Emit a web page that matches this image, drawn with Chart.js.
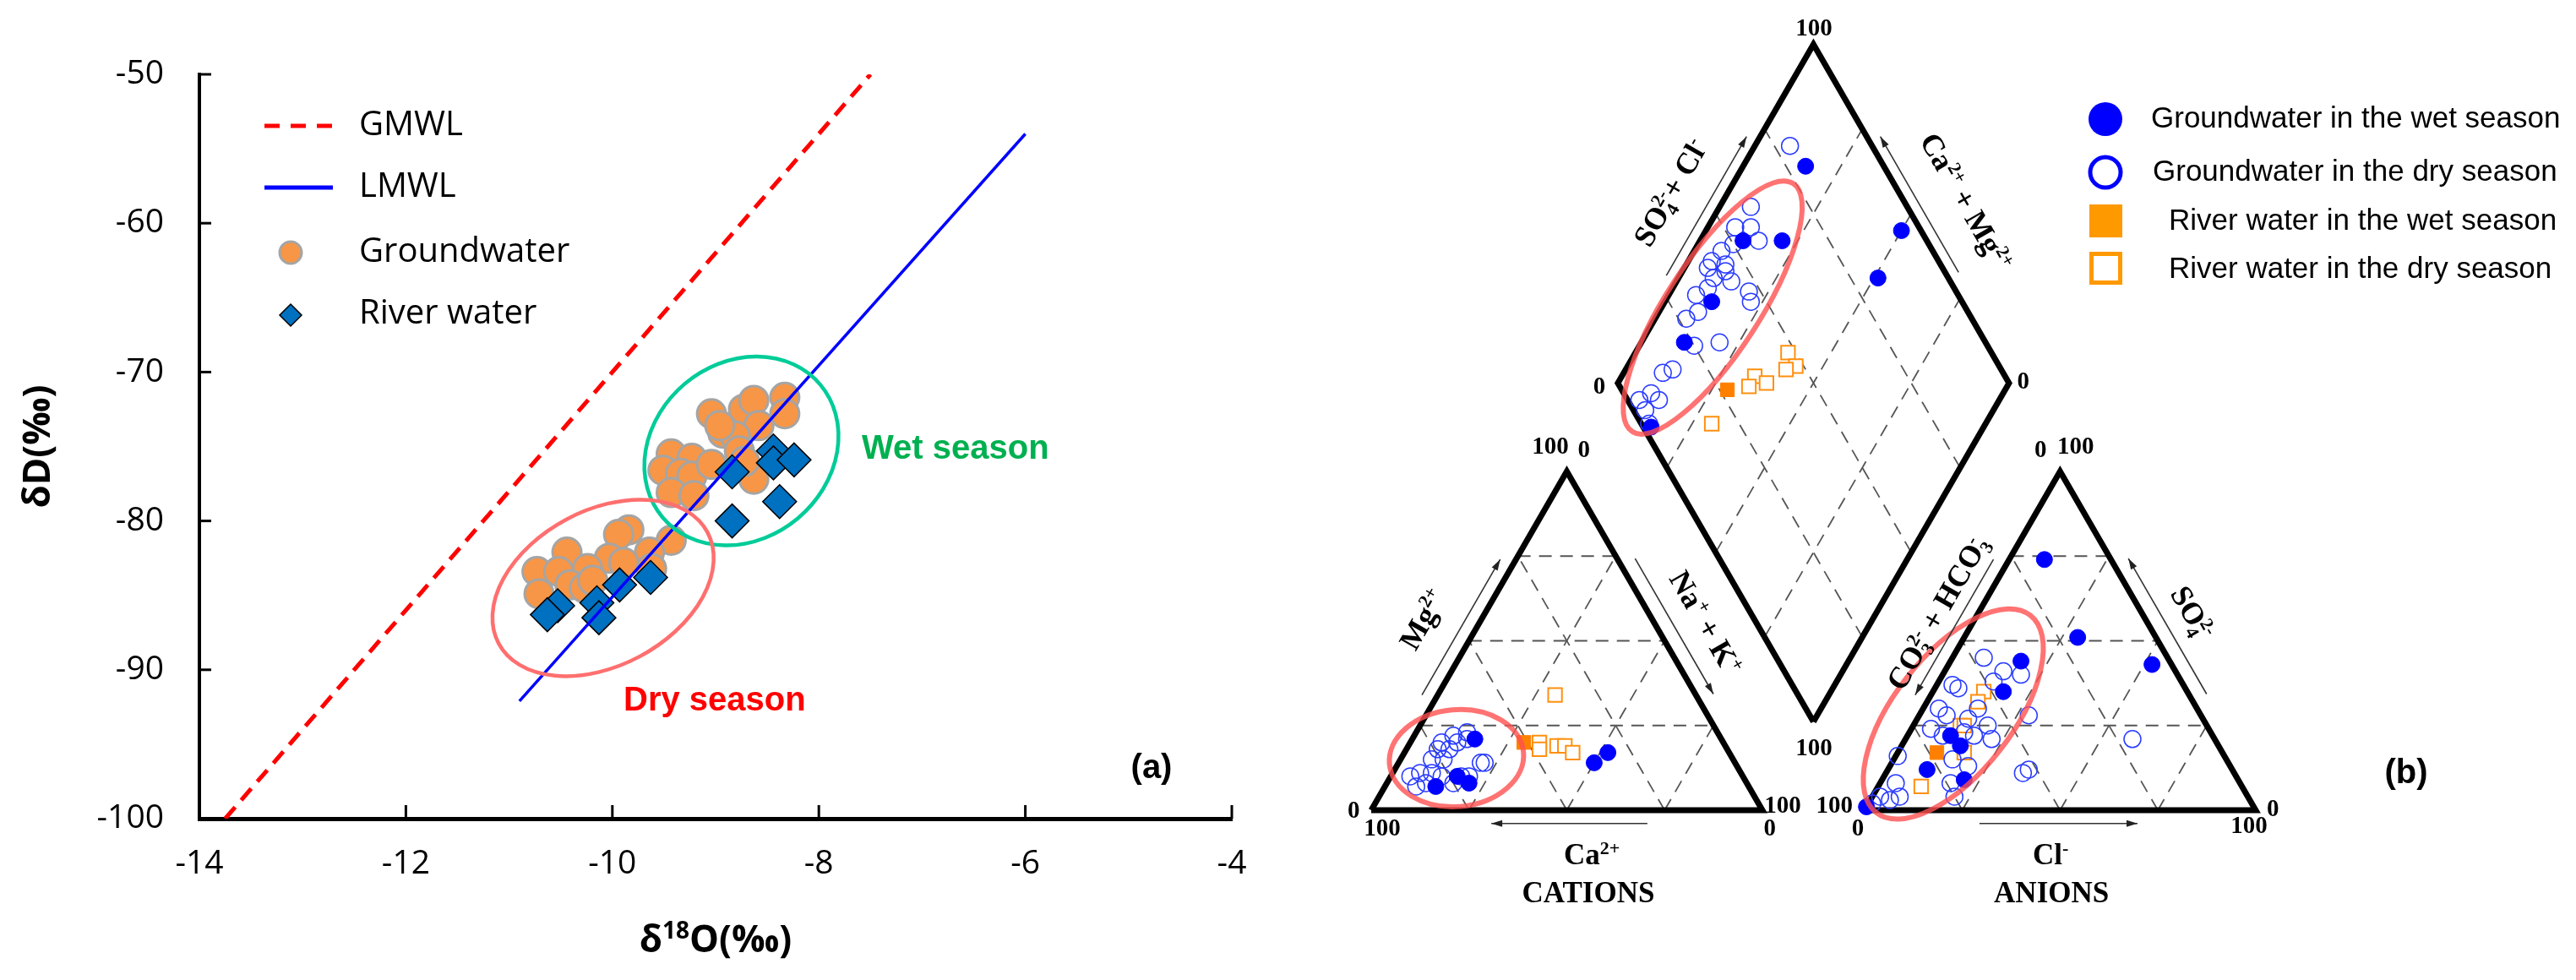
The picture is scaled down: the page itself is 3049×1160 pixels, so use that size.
<!DOCTYPE html>
<html>
<head>
<meta charset="utf-8">
<script src="https://cdn.jsdelivr.net/npm/chart.js@4.4.1/dist/chart.umd.min.js"></script>
<style>
  html, body { margin: 0; padding: 0; background: #fff; }
  #wrap { position: relative; width: 3049px; height: 1160px; overflow: hidden; }
  .box { position: absolute; top: 0; height: 1160px; }
</style>
</head>
<body>
<div id="wrap">
  <div class="box" style="left:0;width:1560px"><canvas id="isoChart"></canvas></div>
  <div class="box" style="left:1560px;width:1489px"><canvas id="piperChart"></canvas></div>
</div>
<script>
// ---- (a) stable isotopes, values in ‰ ----
const gwO18 = [-9.04, -8.73, -8.63, -8.33, -8.33, -8.58, -8.93, -8.81, -8.96, -9.43, -9.23, -9.51, -9.34, -9.23, -9.04,
  -9.43, -9.21, -8.63, -8.77, -8.72, -9.84, -9.94, -9.43, -10.44, -10.03, -9.64, -10.73, -10.52, -10.24, -10.71,
  -10.41, -10.27, -9.89, -9.62, -10.19];
const gwD = [-72.8, -72.5, -71.9, -71.7, -72.8, -73.6, -74.1, -74.3, -73.6, -75.5, -75.8, -76.6, -76.8, -77.0, -76.2,
  -78.1, -78.3, -77.2, -75.3, -76.0, -80.6, -80.9, -81.3, -82.1, -82.5, -82.1, -83.4, -83.4, -83.2, -84.9,
  -84.3, -84.5, -82.8, -83.2, -84.0];
const riverO18 = [-8.84, -8.44, -8.44, -8.24, -8.38, -8.84, -9.63, -9.93, -10.15, -10.13, -10.53, -10.63];
const riverD = [-76.7, -75.3, -76.1, -75.9, -78.7, -80.0, -83.8, -84.3, -85.5, -86.5, -85.7, -86.3];
const gmwlO18 = [-13.75, -7.5];
const gmwlD = [-100, -50];
const lmwlO18 = [-10.9, -6.0];
const lmwlD = [-92.1, -54.0];
const isoXTicks = [-14, -12, -10, -8, -6, -4];
const isoYTicks = [-100, -90, -80, -70, -60, -50];

// ---- (b) Piper diagram, values in % meq ----
// cations: [Mg, Na+K]
const gwWetCation = [[21, 16], [7, 13], [10, 17], [8, 21], [17, 52], [14, 50]];
const gwDryCation = [[23, 13], [22, 10], [20, 8], [18, 8], [15, 11], [15, 8], [11, 7], [10, 5], [7, 8], [11, 10],
  [8, 17], [10, 18], [14, 21], [14, 22], [20, 12], [21, 14], [10, 13], [10, 20], [18, 11], [8, 10]];
const rvWetCation = [[20, 29]];
const rvDryCation = [[20, 33], [18, 34], [19, 38], [19, 40], [17, 43], [34, 30]];
// anions: [SO4, Cl]
const gwWetAnion = [[44, 18], [35, 18], [22, 11], [19, 15], [12, 10], [9, 21], [1, 0], [51, 29], [43, 52], [74, 9]];
const gwDryAnion = [[45, 8], [41, 15], [40, 20], [38, 14], [37, 4], [36, 6], [30, 4], [28, 7], [24, 5], [22, 9],
  [23, 14], [30, 14], [25, 19], [21, 22], [22, 17], [15, 15], [13, 20], [8, 18], [4, 21], [16, 0.5],
  [8, 4], [4, 2], [4, 7], [3, 5], [28, 28], [21, 58], [11, 35], [12, 36], [27, 13], [2, 1]];
const rvWetAnion = [[17, 10]];
const rvDryAnion = [[35, 13], [32, 13], [25, 12], [25, 13], [17, 17], [7, 11]];
// diamond: [SO4+Cl, Ca+Mg]
const gwWetDiamond = [[80, 84], [63, 79], [53, 89], [36, 88], [23, 89], [2, 85], [95, 50], [82, 49]];
const gwDryDiamond = [[79, 91], [60, 92], [53, 93], [57, 89], [57, 85], [50, 91], [42, 94], [45, 90], [44, 89], [40, 94],
  [40, 91], [44, 86], [37, 91], [47, 80], [46, 78], [33, 93], [31, 90], [27, 92], [25, 86], [32, 80],
  [16, 88], [13, 90], [7, 90], [8, 87], [3, 89], [2, 86], [3, 92], [46, 93]];
const rvWetDiamond = [[27, 71]];
const rvDryDiamond = [[18, 70], [36, 66], [33, 66], [38, 62], [48, 61], [48, 57], [45, 59]];
const gridLevels = [25, 50, 75];

const zip = (xs, ys) => xs.map((x, i) => ({ x, y: ys[i] }));

// ================= chart (a) =================
function ellipse(ctx, cx, cy, a, b, deg, color, lw) {
  ctx.save();
  ctx.strokeStyle = color; ctx.lineWidth = lw;
  ctx.beginPath(); ctx.ellipse(cx, cy, a, b, deg * Math.PI / 180, 0, Math.PI * 2); ctx.stroke();
  ctx.restore();
}

const isoDecor = {
  id: 'isoDecor',
  afterDatasetsDraw(chart) {
    const { ctx, scales: { x, y } } = chart;
    ellipse(ctx, x.getPixelForValue(-8.75), y.getPixelForValue(-75.3), 122, 104, -40, '#00CC99', 4.5);
    ellipse(ctx, x.getPixelForValue(-10.09), y.getPixelForValue(-84.5), 140, 92, -28, '#FF6F6F', 4.5);
  },
  afterDraw(chart) {
    const { ctx, chartArea: ca, scales: { x, y } } = chart;
    ctx.save();
    // inner tick marks
    ctx.strokeStyle = '#000'; ctx.lineWidth = 3;
    isoXTicks.forEach(v => {
      const p = x.getPixelForValue(v);
      ctx.beginPath(); ctx.moveTo(p, ca.bottom); ctx.lineTo(p, ca.bottom - 16); ctx.stroke();
    });
    isoYTicks.forEach(v => {
      const p = y.getPixelForValue(v);
      ctx.beginPath(); ctx.moveTo(ca.left, p); ctx.lineTo(ca.left + 14, p); ctx.stroke();
    });

    // axis titles
    ctx.fillStyle = '#000';
    ctx.textBaseline = 'alphabetic'; ctx.textAlign = 'left';
    const parts = [['δ', 44, 0], ['18', 28, -16], ['O(‰)', 44, 0]];
    let w = 0;
    parts.forEach(p => { ctx.font = 'bold ' + p[1] + 'px "Open Sans"'; w += ctx.measureText(p[0]).width; });
    let cx = (ca.left + ca.right) / 2 - w / 2;
    parts.forEach(p => {
      ctx.font = 'bold ' + p[1] + 'px "Open Sans"';
      ctx.fillText(p[0], cx, 1127 + p[2]);
      cx += ctx.measureText(p[0]).width;
    });
    ctx.save();
    ctx.translate(46, (ca.top + ca.bottom) / 2); ctx.rotate(-Math.PI / 2);
    ctx.font = 'bold 44px "Open Sans"'; ctx.textAlign = 'center'; ctx.textBaseline = 'middle';
    ctx.fillText('δD(‰)', 0, 0);
    ctx.restore();

    // legend
    ctx.lineWidth = 5;
    ctx.strokeStyle = '#FF0000'; ctx.setLineDash([18, 13]);
    ctx.beginPath(); ctx.moveTo(313, 149); ctx.lineTo(394, 149); ctx.stroke();
    ctx.setLineDash([]);
    ctx.strokeStyle = '#0000FF';
    ctx.beginPath(); ctx.moveTo(313, 222); ctx.lineTo(394, 222); ctx.stroke();
    ctx.fillStyle = '#F79646'; ctx.strokeStyle = '#A5A5A5'; ctx.lineWidth = 3;
    ctx.beginPath(); ctx.arc(344, 299, 13, 0, Math.PI * 2); ctx.fill(); ctx.stroke();
    ctx.fillStyle = '#0070C0'; ctx.strokeStyle = '#000'; ctx.lineWidth = 1.5;
    ctx.beginPath(); ctx.moveTo(344, 360); ctx.lineTo(357, 373); ctx.lineTo(344, 386); ctx.lineTo(331, 373); ctx.closePath();
    ctx.fill(); ctx.stroke();
    ctx.fillStyle = '#000'; ctx.font = '40px "Open Sans"'; ctx.textAlign = 'left'; ctx.textBaseline = 'middle';
    ctx.fillText('GMWL', 425, 149);
    ctx.fillText('LMWL', 425, 222);
    ctx.fillText('Groundwater', 425, 299);
    ctx.fillText('River water', 425, 372);

    // annotations
    ctx.textBaseline = 'alphabetic';
    ctx.font = 'bold 40px "Liberation Sans"';
    ctx.fillStyle = '#00B050'; ctx.fillText('Wet season', 1020, 543);
    ctx.fillStyle = '#FF0000'; ctx.fillText('Dry season', 738, 841);
    ctx.fillStyle = '#000'; ctx.font = 'bold 40px "Liberation Sans"'; ctx.textAlign = 'center';
    ctx.fillText('(a)', 1363, 921);
    ctx.restore();
  }
};

new Chart(document.getElementById('isoChart'), {
  type: 'scatter',
  data: {
    datasets: [
      { label: 'GMWL', data: zip(gmwlO18, gmwlD), showLine: true, borderColor: '#FF0000', borderWidth: 5,
        borderDash: [18, 11], pointRadius: 0, order: 0 },
      { label: 'LMWL', data: zip(lmwlO18, lmwlD), showLine: true, borderColor: '#0000FF', borderWidth: 3.5,
        pointRadius: 0, order: 0 },
      { label: 'River water', data: zip(riverO18, riverD), pointStyle: 'rectRot', pointRadius: 20,
        backgroundColor: '#0070C0', borderColor: '#000', borderWidth: 1.5, order: 1 },
      { label: 'Groundwater', data: zip(gwO18, gwD), pointStyle: 'circle', pointRadius: 17,
        backgroundColor: '#F79646', borderColor: '#A5A5A5', borderWidth: 3, order: 2 }
    ]
  },
  options: {
    responsive: true, maintainAspectRatio: false, animation: false, events: [],
    layout: { padding: { top: 88, right: 102, bottom: 0, left: 0 }, autoPadding: false },
    plugins: { legend: { display: false }, tooltip: { enabled: false } },
    scales: {
      x: {
        type: 'linear', min: -14, max: -4,
        afterBuildTicks: s => { s.ticks = isoXTicks.map(v => ({ value: v })); },
        afterFit: s => { s.height = 191; },
        grid: { display: false, drawTicks: false },
        border: { display: true, color: '#000', width: 5 },
        ticks: { color: '#000', font: { family: 'Open Sans', size: 39 }, padding: 30, autoSkip: false, maxRotation: 0 }
      },
      y: {
        type: 'linear', min: -100, max: -50,
        afterBuildTicks: s => { s.ticks = isoYTicks.map(v => ({ value: v })); },
        afterFit: s => { s.width = 236; },
        grid: { display: false, drawTicks: false },
        border: { display: true, color: '#000', width: 4 },
        ticks: { color: '#000', font: { family: 'Open Sans', size: 39 }, padding: 42 }
      }
    }
  },
  plugins: [isoDecor]
});

// ================= chart (b) Piper =================
const GAP = 26.1, H = Math.sqrt(3) / 2;
const catPt = ([mg, nak]) => ({ x: nak + mg / 2, y: mg * H });
const anPt = ([so4, cl]) => ({ x: 100 + GAP + cl + so4 / 2, y: so4 * H });
const diaPt = ([a, c]) => ({ x: 100 + GAP / 2 + (a - c) / 2, y: GAP * H + (a + c) * H });

const frameSets = [
  [catPt([0, 0]), catPt([0, 100]), catPt([100, 0]), catPt([0, 0])],
  [anPt([0, 0]), anPt([0, 100]), anPt([100, 0]), anPt([0, 0])],
  [diaPt([0, 0]), diaPt([100, 0]), diaPt([100, 100]), diaPt([0, 100]), diaPt([0, 0])]
];
const gridSets = [];
gridLevels.forEach(g => {
  gridSets.push([catPt([g, 0]), catPt([g, 100 - g])]);
  gridSets.push([catPt([0, g]), catPt([100 - g, g])]);
  gridSets.push([catPt([0, 100 - g]), catPt([100 - g, 0])]);
  gridSets.push([anPt([g, 0]), anPt([g, 100 - g])]);
  gridSets.push([anPt([0, g]), anPt([100 - g, g])]);
  gridSets.push([anPt([0, 100 - g]), anPt([100 - g, 0])]);
  gridSets.push([diaPt([g, 0]), diaPt([g, 100])]);
  gridSets.push([diaPt([0, g]), diaPt([100, g])]);
});
const project = (cat, an, dia) => [...cat.map(catPt), ...an.map(anPt), ...dia.map(diaPt)];

const PX_PER = 4.63;
const X_MIN = -63 / PX_PER, Y_MAX = 959 / PX_PER;

function drawRich(ctx, parts, x, y, rot, size) {
  const small = Math.round(size * 0.62);
  const fN = 'bold ' + size + 'px "Liberation Serif"', fS = 'bold ' + small + 'px "Liberation Serif"';
  let cur = 0, lastStart = 0;
  const items = [];
  parts.forEach(([t, k]) => {
    ctx.font = k ? fS : fN;
    const w = ctx.measureText(t).width;
    if (k === '^~') {
      items.push({ t, f: fS, dx: lastStart, dy: -size * 0.36 });
      cur = Math.max(cur, lastStart + w);
      return;
    }
    const dy = k === '^' ? -size * 0.36 : (k === '_' ? size * 0.2 : 0);
    items.push({ t, f: k ? fS : fN, dx: cur, dy });
    lastStart = cur; cur += w;
  });
  ctx.save();
  ctx.translate(x, y); ctx.rotate(rot);
  ctx.fillStyle = '#000'; ctx.textAlign = 'left'; ctx.textBaseline = 'alphabetic';
  items.forEach(it => { ctx.font = it.f; ctx.fillText(it.t, it.dx - cur / 2, it.dy + size * 0.33); });
  ctx.restore();
}

const piperArrows = [
  [12.97, 29.46, 32.97, 64.1], [67.46, 64.35, 87.46, 29.7], [70.6, -3.4, 30.7, -3.4],
  [159.07, 64.1, 139.07, 29.46], [213.56, 29.7, 193.56, 64.35], [155.5, -3.4, 195.9, -3.4],
  [75.45, 136.7, 95.95, 172.2], [150.15, 137.5, 130.15, 172.2]
];
const R60 = Math.PI / 3;
const piperLabels = [
  [[['Mg', ''], ['2+', '^']], 13.2, 48.8, -R60, 36],
  [[['Na', ''], ['+', '^'], [' + K', ''], ['+', '^']], 85.5, 47.9, R60, 36],
  [[['Ca', ''], ['2+', '^']], 56.4, -11.4, 0, 35],
  [[['CATIONS', '']], 55.5, -21.0, 0, 35],
  [[['CO', ''], ['3', '_'], ['2-', '^~'], [' + HCO', ''], ['3', '_'], ['-', '^~']], 144.7, 50.5, -R60, 36],
  [[['SO', ''], ['4', '_'], ['2-', '^~']], 209.9, 50.5, R60, 36],
  [[['Cl', ''], ['-', '^']], 173.7, -11.4, 0, 35],
  [[['ANIONS', '']], 173.9, -21.0, 0, 35],
  [[['SO', ''], ['4', '_'], ['2-', '^~'], ['+ Cl', ''], ['-', '^']], 76.5, 157.9, -R60, 36],
  [[['Ca', ''], ['2+', '^'], [' + Mg', ''], ['2+', '^']], 152.1, 155.5, R60, 36]
];
const cornerLabels = [
  ['0', -4.5, -0.4], ['100', 2.8, -4.8], ['100', 105.2, 0.9], ['0', 101.9, -4.8], ['100', 45.8, 92.7], ['0', 54.4, 92.0],
  ['100', 118.4, 0.9], ['0', 124.4, -4.8], ['0', 230.5, 0.0], ['100', 224.4, -4.3], ['0', 171.1, 92.0], ['100', 180.1, 92.7],
  ['100', 113.2, 199.6], ['100', 113.2, 15.6], ['0', 58.3, 108.2], ['0', 166.7, 109.3]
];

const piperDecor = {
  id: 'piperDecor',
  afterDatasetsDraw(chart) {
    const { ctx, scales: { x, y } } = chart;
    const px = (u, v) => [x.getPixelForValue(u), y.getPixelForValue(v)];
    const k = x.getPixelForValue(1) - x.getPixelForValue(0);
    ctx.save();
    // red rings
    [[21.8, 13.3, 17.2, 12.4, -5], [87.3, 128.5, 37.8, 11.9, -57], [148.8, 24.6, 32, 15.1, -52]].forEach(([u, v, a, b, r]) => {
      const [cx, cy] = px(u, v);
      ellipse(ctx, cx, cy, a * k, b * k, r, 'rgba(255,80,80,0.8)', 6);
    });
    // arrows
    ctx.strokeStyle = '#333'; ctx.fillStyle = '#222'; ctx.lineWidth = 1.6;
    piperArrows.forEach(([u0, v0, u1, v1]) => {
      const [x0, y0] = px(u0, v0), [x1, y1] = px(u1, v1);
      ctx.beginPath(); ctx.moveTo(x0, y0); ctx.lineTo(x1, y1); ctx.stroke();
      const ang = Math.atan2(y1 - y0, x1 - x0), L = 13, W = 4;
      ctx.beginPath(); ctx.moveTo(x1, y1);
      ctx.lineTo(x1 - L * Math.cos(ang) + W * Math.sin(ang), y1 - L * Math.sin(ang) - W * Math.cos(ang));
      ctx.lineTo(x1 - L * Math.cos(ang) - W * Math.sin(ang), y1 - L * Math.sin(ang) + W * Math.cos(ang));
      ctx.closePath(); ctx.fill();
    });
    // axis labels
    piperLabels.forEach(([parts, u, v, rot, size]) => {
      const [lx, ly] = px(u, v);
      drawRich(ctx, parts, lx, ly, rot, size);
    });
    ctx.fillStyle = '#000'; ctx.font = 'bold 29px "Liberation Serif"';
    ctx.textAlign = 'center'; ctx.textBaseline = 'middle';
    cornerLabels.forEach(([t, u, v]) => { const [lx, ly] = px(u, v); ctx.fillText(t, lx, ly); });

    // legend
    ctx.fillStyle = '#0000FF';
    ctx.beginPath(); ctx.arc(932, 141, 20, 0, Math.PI * 2); ctx.fill();
    ctx.strokeStyle = '#0000FF'; ctx.lineWidth = 5;
    ctx.beginPath(); ctx.arc(932, 204, 18, 0, Math.PI * 2); ctx.stroke();
    ctx.fillStyle = '#FF9900'; ctx.fillRect(913, 242, 39, 39);
    ctx.strokeStyle = '#FF9900'; ctx.lineWidth = 5; ctx.strokeRect(915.5, 300.5, 34, 34);
    ctx.fillStyle = '#000'; ctx.font = '35px "Liberation Sans"'; ctx.textAlign = 'left'; ctx.textBaseline = 'middle';
    ctx.fillText('Groundwater in the wet season', 986, 141);
    ctx.fillText('Groundwater in the dry season', 988, 204);
    ctx.fillText('River water in the wet season', 1007, 262);
    ctx.fillText('River water in the dry season', 1007, 319);
    ctx.font = 'bold 40px "Liberation Sans"'; ctx.textAlign = 'center';
    ctx.fillText('(b)', 1288, 916);
    ctx.restore();
  }
};

const piperDatasets = [
  { label: 'Groundwater in the wet season', data: project(gwWetCation, gwWetAnion, gwWetDiamond),
    pointStyle: 'circle', pointRadius: 9.5, backgroundColor: '#0000FF', borderColor: '#0000FF', borderWidth: 1, order: 0 },
  { label: 'Groundwater in the dry season', data: project(gwDryCation, gwDryAnion, gwDryDiamond),
    pointStyle: 'circle', pointRadius: 10, backgroundColor: 'rgba(0,0,0,0)', borderColor: '#2A3CFF', borderWidth: 1.5, order: 1 },
  { label: 'River water in the wet season', data: project(rvWetCation, rvWetAnion, rvWetDiamond),
    pointStyle: 'rect', pointRadius: 11.5, backgroundColor: '#FF8000', borderColor: '#FF8000', borderWidth: 1, order: 2 },
  { label: 'River water in the dry season', data: project(rvDryCation, rvDryAnion, rvDryDiamond),
    pointStyle: 'rect', pointRadius: 11.5, backgroundColor: '#FFFFFF', borderColor: '#FF9010', borderWidth: 2, order: 3 }
];
frameSets.forEach(f => piperDatasets.push({ data: f, showLine: true, borderColor: '#000', borderWidth: 7,
  borderJoinStyle: 'miter', pointRadius: 0, order: 10 }));
gridSets.forEach(g => piperDatasets.push({ data: g, showLine: true, borderColor: '#555', borderWidth: 1.8,
  borderDash: [15, 10], pointRadius: 0, order: 20 }));

new Chart(document.getElementById('piperChart'), {
  type: 'scatter',
  data: { datasets: piperDatasets },
  options: {
    responsive: true, maintainAspectRatio: false, animation: false, events: [],
    layout: { padding: 0, autoPadding: false },
    plugins: { legend: { display: false }, tooltip: { enabled: false } },
    scales: {
      x: { type: 'linear', display: false, min: X_MIN, max: X_MIN + 1489 / PX_PER },
      y: { type: 'linear', display: false, min: Y_MAX - 1160 / PX_PER, max: Y_MAX }
    }
  },
  plugins: [piperDecor]
});
</script>
</body>
</html>
